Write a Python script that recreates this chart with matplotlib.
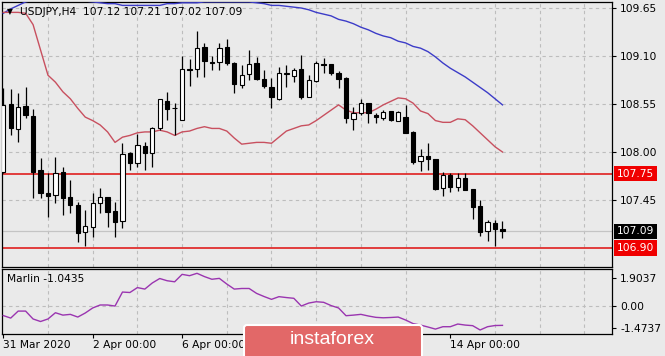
import numpy as np
import matplotlib.pyplot as plt
from matplotlib.patches import FancyBboxPatch
from matplotlib.transforms import IdentityTransform

# USDJPY H4, 31 Mar 2020 00:00 .. 15 Apr 2020
opens = [107.77, 108.55, 108.26, 108.53, 108.41, 107.79, 107.53, 107.51, 107.77, 107.48,
         107.39, 107.08, 107.14, 107.42, 107.48, 107.32, 107.21, 107.99, 107.87, 108.07,
         107.99, 108.27, 108.58, 108.50, 108.37, 108.95, 108.95, 109.20, 109.03, 109.03,
         109.20, 109.02, 108.77, 108.89, 109.02, 108.84, 108.74, 108.61, 108.89, 108.87,
         108.95, 108.63, 108.81, 109.01, 109.01, 108.91, 108.85, 108.38, 108.45, 108.56,
         108.42, 108.39, 108.47, 108.36, 108.40, 108.23, 107.90, 107.95, 107.92, 107.59,
         107.74, 107.60, 107.70, 107.58, 107.38, 107.09, 107.19, 107.12]
highs = [108.73, 108.72, 108.68, 108.74, 108.49, 107.93, 107.76, 107.94, 107.83, 107.68,
         107.43, 107.34, 107.53, 107.59, 107.48, 107.43, 108.10, 108.00, 108.21, 108.11,
         108.29, 108.61, 108.69, 108.56, 109.10, 109.07, 109.39, 109.25, 109.10, 109.25,
         109.30, 109.03, 109.00, 109.17, 109.09, 108.94, 108.85, 108.97, 109.00, 108.96,
         109.11, 108.88, 109.04, 109.08, 109.01, 108.93, 108.86, 108.52, 108.61, 108.56,
         108.45, 108.48, 108.47, 108.47, 108.54, 108.24, 108.03, 108.10, 107.92, 107.77,
         107.76, 107.76, 107.76, 107.58, 107.45, 107.22, 107.22, 107.21]
lows = [107.76, 108.19, 108.11, 108.39, 107.47, 107.47, 107.26, 107.42, 107.28, 107.30,
        106.97, 106.92, 107.03, 107.30, 107.14, 107.03, 107.13, 107.79, 107.83, 107.79,
        107.83, 108.25, 108.37, 108.19, 108.37, 108.76, 108.86, 108.86, 108.94, 108.94,
        109.00, 108.68, 108.73, 108.83, 108.83, 108.73, 108.50, 108.60, 108.74, 108.80,
        108.61, 108.63, 108.80, 108.91, 108.88, 108.73, 108.33, 108.25, 108.42, 108.33,
        108.33, 108.37, 108.36, 108.36, 108.22, 107.86, 107.78, 107.79, 107.56, 107.50,
        107.54, 107.55, 107.56, 107.23, 107.04, 106.98, 106.92, 107.02]
closes = [108.54, 108.27, 108.52, 108.42, 107.77, 107.53, 107.50, 107.76, 107.47, 107.39,
          107.07, 107.15, 107.42, 107.48, 107.31, 107.20, 107.98, 107.87, 108.08, 107.99,
          108.27, 108.61, 108.49, 108.50, 108.95, 108.94, 109.19, 109.04, 109.02, 109.19,
          109.02, 108.78, 108.88, 109.01, 108.84, 108.76, 108.63, 108.91, 108.91, 108.94,
          108.63, 108.83, 109.02, 109.00, 108.91, 108.84, 108.39, 108.45, 108.56, 108.45,
          108.40, 108.46, 108.37, 108.46, 108.22, 107.89, 107.95, 107.92, 107.58, 107.74,
          107.60, 107.70, 107.56, 107.37, 107.08, 107.20, 107.12, 107.09]

ma_fast = [109.60, 109.60, 109.60, 109.59, 109.46, 109.17, 108.88, 108.80, 108.69, 108.61,
           108.50, 108.40, 108.36, 108.31, 108.23, 108.11, 108.17, 108.19, 108.22, 108.23,
           108.23, 108.25, 108.23, 108.19, 108.23, 108.24, 108.27, 108.29, 108.27, 108.27,
           108.24, 108.16, 108.09, 108.10, 108.11, 108.11, 108.10, 108.17, 108.24, 108.27,
           108.30, 108.31, 108.36, 108.42, 108.48, 108.54, 108.48, 108.45, 108.45, 108.45,
           108.49, 108.54, 108.58, 108.62, 108.61, 108.56, 108.47, 108.44, 108.36, 108.34,
           108.34, 108.38, 108.37, 108.30, 108.22, 108.14, 108.06, 108.00]
ma_slow = [109.59, 109.64, 109.68, 109.72, 109.74, 109.76, 109.78, 109.78, 109.78, 109.76,
           109.75, 109.73, 109.72, 109.71, 109.70, 109.70, 109.68, 109.68, 109.68, 109.68,
           109.68, 109.68, 109.70, 109.70, 109.71, 109.71, 109.71, 109.72, 109.72, 109.72,
           109.72, 109.72, 109.72, 109.72, 109.71, 109.70, 109.68, 109.68, 109.67, 109.66,
           109.65, 109.63, 109.60, 109.58, 109.56, 109.52, 109.50, 109.47, 109.43, 109.40,
           109.36, 109.33, 109.31, 109.27, 109.25, 109.21, 109.19, 109.15, 109.09, 109.02,
           108.96, 108.91, 108.86, 108.80, 108.74, 108.68, 108.61, 108.54]
marlin = [-0.64, -0.81, -0.34, -0.34, -0.87, -1.04, -0.87, -0.45, -0.61, -0.56,
          -0.74, -0.47, -0.13, 0.07, 0.07, 0.00, 0.94, 0.91, 1.24, 1.14,
          1.55, 1.85, 1.70, 1.63, 2.13, 2.04, 2.20, 1.98, 1.80, 1.86,
          1.48, 1.14, 1.18, 1.18, 0.85, 0.64, 0.45, 0.63, 0.57, 0.52,
          0.00, 0.20, 0.29, 0.25, 0.03, -0.13, -0.65, -0.61, -0.56, -0.67,
          -0.76, -0.79, -0.77, -0.74, -0.94, -1.18, -1.28, -1.41, -1.55, -1.39,
          -1.39, -1.21, -1.28, -1.32, -1.61, -1.39, -1.31, -1.30]

date_ticks = [0, 12, 24, 36, 48, 60]
date_labels = ['31 Mar 2020', '2 Apr 00:00', '6 Apr 00:00', '8 Apr 00:00',
               '10 Apr 00:00', '14 Apr 00:00']
hidden_dates = [36, 48]  # these two sit under the watermark
price_ticks = [109.65, 109.10, 108.55, 108.00, 107.45]
levels = [107.75, 106.90]
last_price = 107.09
marlin_ticks = [1.9037, 0.00, -1.4737]
marlin_labels = ['1.9037', '0.00', '-1.4737']

W, H = 665, 356
bg = '#EAEAEA'
grid_kw = dict(color='#BDBDBD', linewidth=0.8, linestyle=(0, (3, 3)))
fs = 7.7

fig = plt.figure(figsize=(W / 100, H / 100), dpi=100, facecolor=bg)
ax = fig.add_axes([2 / W, 1 - 267 / H, 610 / W, 265 / H], facecolor=bg)
ax2 = fig.add_axes([2 / W, 1 - 334 / H, 610 / W, 65 / H], facecolor=bg)

x = np.arange(len(opens))
o = np.array(opens)
c = np.array(closes)
xlim = (-0.17, 81.7)

# grid
for a in (ax, ax2):
    a.set_xlim(*xlim)
    a.set_xticks(range(0, 82, 6), minor=True)
    a.tick_params(axis='x', which='minor', length=0)
    a.grid(True, which='minor', axis='x', **grid_kw)
    for s in a.spines.values():
        s.set_color('#000000')
        s.set_linewidth(0.9)
    a.set_axisbelow(True)

# main price panel
ax.set_ylim(106.682, 109.719)
ax.set_yticks(price_ticks)
ax.set_yticklabels(['%.2f' % p for p in price_ticks])
ax.yaxis.tick_right()
ax.tick_params(axis='y', length=3, width=0.8, labelsize=fs, pad=3, colors='black')
ax.tick_params(axis='x', which='major', bottom=False, labelbottom=False)
ax.grid(True, which='major', axis='y', **grid_kw)

ax.axhline(last_price, color='#C4C4C4', linewidth=0.9, zorder=1)
for lv in levels:
    ax.axhline(lv, color='#E0201F', linewidth=1.2, zorder=2)

ax.plot(x, ma_slow, color='#3C3CC8', linewidth=1.0, zorder=3)
ax.plot(x, ma_fast, color='#C8505F', linewidth=1.0, zorder=3)

ax.vlines(x, lows, highs, color='#000000', linewidth=0.9, zorder=4)
up = c >= o
ax.bar(x[up], (c - o)[up], bottom=o[up], width=0.58, color='white',
       edgecolor='black', linewidth=0.8, zorder=5)
ax.bar(x[~up], (c - o)[~up], bottom=o[~up], width=0.58, color='black',
       edgecolor='black', linewidth=0.8, zorder=5)

tag_kw = dict(xycoords=('axes fraction', 'data'), xytext=(3.5, 0),
              textcoords='offset points', ha='left', va='center', fontsize=fs,
              color='white', annotation_clip=False)
for lv in levels:
    ax.annotate('%.2f' % lv, xy=(1, lv),
                bbox=dict(boxstyle='square,pad=0.25', fc='#F00000', ec='none'), **tag_kw)
ax.annotate('%.2f' % last_price, xy=(1, last_price),
            bbox=dict(boxstyle='square,pad=0.25', fc='#000000', ec='none'), **tag_kw)

fig.text(7 / W, 1 - 12 / H, '\u25BC', fontsize=5.5, va='center', ha='left')
fig.text(20 / W, 1 - 12 / H, 'USDJPY,H4  107.12 107.21 107.02 107.09',
         fontsize=fs, va='center', ha='left')

# Marlin panel
ax2.set_ylim(-1.88, 2.49)
ax2.set_yticks(marlin_ticks)
ax2.set_yticklabels(marlin_labels)
ax2.yaxis.tick_right()
ax2.tick_params(axis='y', length=3, width=0.8, labelsize=fs, pad=3)
ax2.axhline(0, **grid_kw, zorder=1)
ax2.plot(x, marlin, color='#9A35B0', linewidth=1.0, zorder=3)
ax2.set_xticks(date_ticks)
ax2.set_xticklabels(['' if t in hidden_dates else lab
                     for t, lab in zip(date_ticks, date_labels)], ha='left')
ax2.tick_params(axis='x', which='major', length=3, width=0.8, labelsize=fs, pad=1)
fig.text(7 / W, 1 - 279 / H, 'Marlin -1.0435', fontsize=fs, va='center', ha='left')

# watermark
logo = FancyBboxPatch((244, -6), 178, 37, boxstyle='round,pad=0,rounding_size=3',
                      facecolor='#E26868', edgecolor='white', linewidth=1.5,
                      transform=IdentityTransform(), zorder=10)
fig.patches.append(logo)
fig.text(332 / W, 1 - 340 / H, 'instaforex', color='white', fontsize=14,
         family=['Liberation Sans Narrow', 'Liberation Sans', 'DejaVu Sans'],
         ha='center', va='center', zorder=11)

fig.savefig('out.png', dpi=100, facecolor=bg)
